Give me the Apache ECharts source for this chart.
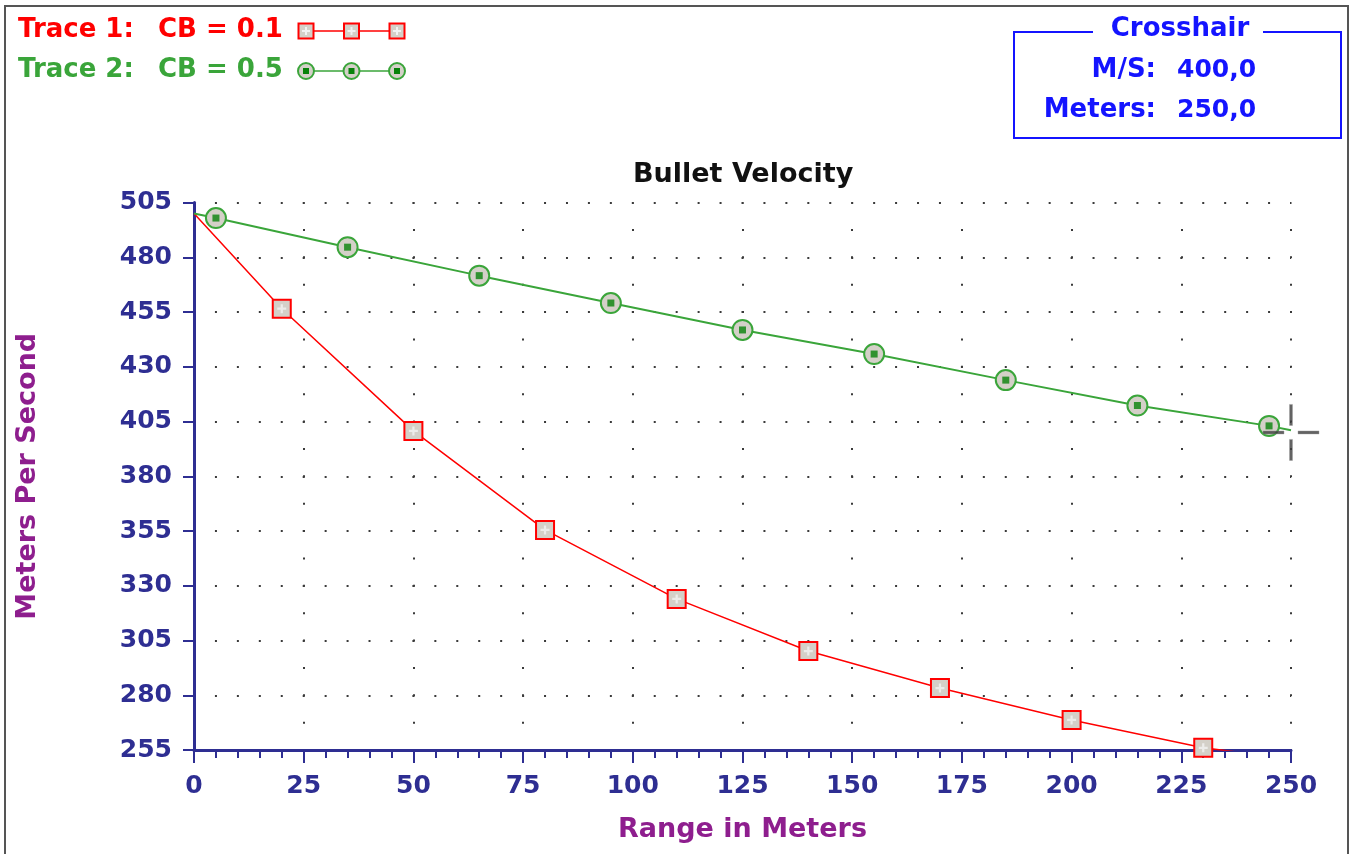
<!DOCTYPE html>
<html>
<head>
<meta charset="UTF-8">
<title>Bullet Velocity</title>
<script src="https://cdn.jsdelivr.net/npm/echarts@6/dist/echarts.min.js"></script>
<style>
	html, body { margin: 0; padding: 0; background: #fff; }
	#container { width: 1354px; height: 854px; }
</style>
</head>
<body>
<div id="container"></div>
<script type="text/javascript">
// Trace 1: CB = 0.1 (range in meters / meters per second)
var range1 = [0, 20, 50, 80, 110, 140, 170, 200, 230, 240];
var speed1 = [500, 456.5, 400.7, 355.5, 324, 300.2, 283.3, 268.7, 256, 253.5];
// Trace 2: CB = 0.5
var range2 = [0, 5, 35, 65, 95, 125, 155, 185, 215, 245, 250];
var speed2 = [500, 497.9, 484.6, 471.6, 459.1, 446.8, 435.8, 423.9, 412.3, 403, 401];
// axis ticks
var xTicks = [0, 25, 50, 75, 100, 125, 150, 175, 200, 225, 250];
var yTicks = [255, 280, 305, 330, 355, 380, 405, 430, 455, 480, 505];
// crosshair position [meters, m/s]
var crosshair = [250, 400];

var NAVY = '#2e2e92', PURPLE = '#8e1e8e', RED = '#ff0000', GREEN = '#3aa53a',
	DKGREEN = '#07820a', FILL = '#d4d0c8', BLUE = '#1414ff', DOT = '#3a3a3a';
var FONT = 'DejaVu Sans';
var PLUS = 'path://M3 0H5V3H8V5H5V8H3V5H0V3H3Z';
var CROSS = 'path://M26.5 0H29.5V21H26.5Z M26.5 35H29.5V56H26.5Z M0 26.5H21V29.5H0Z M35 26.5H56V29.5H35Z';

// first point and trailing point carry no marker
function lineData(xs, ys) {
	return xs.map(function(x, i) {
		var item = { value: [x, ys[i]] };
		if (i === 0 || i === xs.length - 1) item.symbol = 'none';
		return item;
	});
}
function markerData(xs, ys) {
	var out = [];
	for (var i = 1; i < xs.length - 1; i++) out.push([xs[i], ys[i]]);
	return out;
}
function fmt(v) {
	return v.toFixed(1).replace('.', ',');
}

// legend drawn by hand: text then a little trace sample
function legendRow(cy, label, cb, color, kind) {
	var els = [
		{ type: 'text', x: 18, y: cy, style: { text: label, fill: color, font: 'bold 26px ' + FONT, verticalAlign: 'middle' } },
		{ type: 'text', x: 158, y: cy, style: { text: cb, fill: color, font: 'bold 26px ' + FONT, verticalAlign: 'middle' } },
		{ type: 'line', shape: { x1: 306, y1: cy + 1, x2: 397, y2: cy + 1 }, style: { stroke: kind === 'rect' ? RED : GREEN, lineWidth: 1.5 } }
	];
	[306, 351.5, 397].forEach(function(cx) {
		if (kind === 'rect') {
			els.push({ type: 'rect', shape: { x: cx - 7.5, y: cy - 6.5, width: 15, height: 15 }, style: { fill: FILL, stroke: RED, lineWidth: 2 } });
			els.push({ type: 'polygon', shape: { points: [[cx - 1, cy - 3], [cx + 1, cy - 3], [cx + 1, cy], [cx + 4, cy], [cx + 4, cy + 2], [cx + 1, cy + 2], [cx + 1, cy + 5], [cx - 1, cy + 5], [cx - 1, cy + 2], [cx - 4, cy + 2], [cx - 4, cy], [cx - 1, cy]] }, style: { fill: '#f2f2f2' } });
		} else {
			els.push({ type: 'circle', shape: { cx: cx, cy: cy + 1, r: 8 }, style: { fill: FILL, stroke: GREEN, lineWidth: 2 } });
			els.push({ type: 'rect', shape: { x: cx - 3, y: cy - 2, width: 6, height: 6 }, style: { fill: DKGREEN } });
		}
	});
	return els;
}

var dom = document.getElementById('container');
var myChart = echarts.init(dom, null, { renderer: 'canvas' });

var graphics = [
	{ type: 'rect', shape: { x: 5, y: 6, width: 1343, height: 900 }, style: { fill: 'none', stroke: '#555', lineWidth: 2 }, z: 0 },
	// crosshair readout box
	{ type: 'rect', shape: { x: 1014, y: 32, width: 327, height: 106 }, style: { fill: 'none', stroke: BLUE, lineWidth: 2 } },
	{ type: 'rect', shape: { x: 1093, y: 18, width: 170, height: 24 }, style: { fill: '#fff' } },
	{ type: 'text', x: 1180, y: 29, style: { text: 'Crosshair', fill: BLUE, font: 'bold 26px ' + FONT, align: 'center', verticalAlign: 'middle' } },
	{ type: 'text', x: 1156, y: 70, style: { text: 'M/S:', fill: BLUE, font: 'bold 26px ' + FONT, align: 'right', verticalAlign: 'middle' } },
	{ type: 'text', x: 1177, y: 70, style: { text: fmt(crosshair[1]), fill: BLUE, font: 'bold 25px ' + FONT, align: 'left', verticalAlign: 'middle' } },
	{ type: 'text', x: 1156, y: 110, style: { text: 'Meters:', fill: BLUE, font: 'bold 26px ' + FONT, align: 'right', verticalAlign: 'middle' } },
	{ type: 'text', x: 1177, y: 110, style: { text: fmt(crosshair[0]), fill: BLUE, font: 'bold 25px ' + FONT, align: 'left', verticalAlign: 'middle' } }
].concat(legendRow(30, 'Trace 1:', 'CB = 0.1', RED, 'rect'), legendRow(70, 'Trace 2:', 'CB = 0.5', GREEN, 'circle'));

var option = {
	backgroundColor: '#fff',
	animation: false,
	textStyle: { fontFamily: FONT },
	title: {
		text: 'Bullet Velocity',
		left: 633,
		top: 161,
		padding: 0,
		textStyle: { color: '#111', fontWeight: 'bold', fontSize: 27, fontFamily: FONT }
	},
	graphic: graphics,
	grid: { left: 194, right: 63, top: 202.5, bottom: 104, outerBoundsMode: 'none', containLabel: false },
	xAxis: {
		type: 'value',
		min: xTicks[0],
		max: xTicks[xTicks.length - 1],
		interval: xTicks[1] - xTicks[0],
		name: 'Range in Meters',
		nameLocation: 'middle',
		nameGap: 66,
		nameTextStyle: { color: PURPLE, fontWeight: 'bold', fontSize: 27, fontFamily: FONT },
		axisLine: { show: true, onZero: false, lineStyle: { color: NAVY, width: 3 } },
		axisTick: { show: true, length: 13, lineStyle: { color: NAVY, width: 2 } },
		minorTick: { show: true, splitNumber: 5, length: 8, lineStyle: { color: NAVY, width: 2 } },
		axisLabel: { color: NAVY, fontWeight: 'bold', fontSize: 25, fontFamily: FONT, margin: 24 },
		splitLine: { show: true, lineStyle: { color: DOT, width: 2, type: [2, 25.375], dashOffset: 1 } }
	},
	yAxis: {
		type: 'value',
		min: yTicks[0],
		max: yTicks[yTicks.length - 1],
		interval: yTicks[1] - yTicks[0],
		name: 'Meters Per Second',
		nameLocation: 'middle',
		nameGap: 153,
		nameTextStyle: { color: PURPLE, fontWeight: 'bold', fontSize: 27, fontFamily: FONT },
		axisLine: { show: true, onZero: false, lineStyle: { color: NAVY, width: 3 } },
		axisTick: { show: true, length: 11, lineStyle: { color: NAVY, width: 2 } },
		axisLabel: { color: NAVY, fontWeight: 'bold', fontSize: 25, fontFamily: FONT, margin: 22 },
		splitLine: { show: true, lineStyle: { color: DOT, width: 2, type: [2, 19.94], dashOffset: 1 } }
	},
	series: [
		{
			name: 'Trace 1',
			type: 'line',
			clip: true,
			data: lineData(range1, speed1),
			symbol: 'rect',
			symbolSize: 18,
			lineStyle: { color: RED, width: 1.5 },
			itemStyle: { color: FILL, borderColor: RED, borderWidth: 2 },
			z: 3
		},
		{
			name: 'Trace 1 marks',
			type: 'scatter',
			data: markerData(range1, speed1),
			symbol: PLUS,
			symbolSize: 9,
			itemStyle: { color: '#f2f2f2' },
			silent: true,
			z: 4
		},
		{
			name: 'Trace 2',
			type: 'line',
			clip: true,
			data: lineData(range2, speed2),
			symbol: 'circle',
			symbolSize: 20,
			lineStyle: { color: GREEN, width: 2 },
			itemStyle: { color: FILL, borderColor: GREEN, borderWidth: 2 },
			z: 3
		},
		{
			name: 'Trace 2 marks',
			type: 'scatter',
			data: markerData(range2, speed2),
			symbol: 'rect',
			symbolSize: 7,
			itemStyle: { color: DKGREEN },
			silent: true,
			z: 4
		},
		{
			name: 'Crosshair',
			type: 'scatter',
			clip: false,
			data: [crosshair],
			symbol: CROSS,
			symbolSize: 56,
			itemStyle: { color: '#3c3c3c', borderColor: '#9a9a9a', borderWidth: 0.5 },
			silent: true,
			z: 5
		}
	]
};

if (option && typeof option === 'object') {
	myChart.setOption(option, true);
}
</script>
</body>
</html>
